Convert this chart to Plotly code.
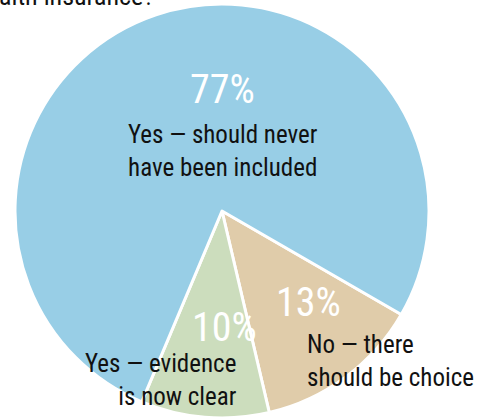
import plotly.graph_objects as go

categories = ["No — there<br>should be choice", "Yes — evidence<br>is now clear", "Yes — should never<br>have been included"]
values = [13, 10, 77]
colors = ["#E0CCAA", "#CCDDBD", "#98CEE6"]
title_text = "alth insurance?"

W, H = 477, 418
FONT = "Liberation Sans Narrow, Roboto Condensed, Roboto, sans-serif"

fig = go.Figure(go.Pie(
    labels=categories,
    values=values,
    sort=False,
    direction="clockwise",
    rotation=120,
    marker=dict(colors=colors, line=dict(color="white", width=3)),
    textinfo="none",
    hoverinfo="skip",
    showlegend=False,
    domain=dict(x=[15 / W, 429 / W], y=[0, 414 / H]),
))

def px(x, y):
    return x / W, 1 - y / H

anns = []
# percentages
for (x, y), v in zip([(308, 302), (224, 327), (222, 89)], values):
    ax, ay = px(x, y)
    anns.append(dict(x=ax, y=ay, xref="paper", yref="paper", text=f"{v}%",
                     showarrow=False,
                     font=dict(family=FONT, size=40, color="white"),
                     xanchor="center", yanchor="middle"))
# category labels
ax, ay = px(305, 361)
anns.append(dict(x=ax, y=ay, text=categories[0], xanchor="left", align="left"))
ax, ay = px(239, 380)
anns.append(dict(x=ax, y=ay, text=categories[1], xanchor="right", align="right"))
ax, ay = px(223, 151)
anns.append(dict(x=ax, y=ay, text=categories[2], xanchor="center", align="center"))
for a in anns[3:]:
    a.update(xref="paper", yref="paper", showarrow=False, yanchor="middle",
             font=dict(family=FONT, size=25, color="#111111"))
# cut-off title (only its lower part is inside the frame)
ax, ay = px(-3, -4)
anns.append(dict(x=ax, y=ay, xref="paper", yref="paper", text=title_text,
                 showarrow=False, xanchor="left", yanchor="middle",
                 font=dict(family=FONT, size=26, color="#111111")))

fig.update_layout(
    width=W, height=H,
    margin=dict(l=0, r=0, t=0, b=0),
    paper_bgcolor="white",
    plot_bgcolor="white",
    annotations=anns,
)
fig.write_html("out.html", config={"displayModeBar": False},
               post_script="document.body.style.margin='0';document.body.style.overflow='hidden';")
